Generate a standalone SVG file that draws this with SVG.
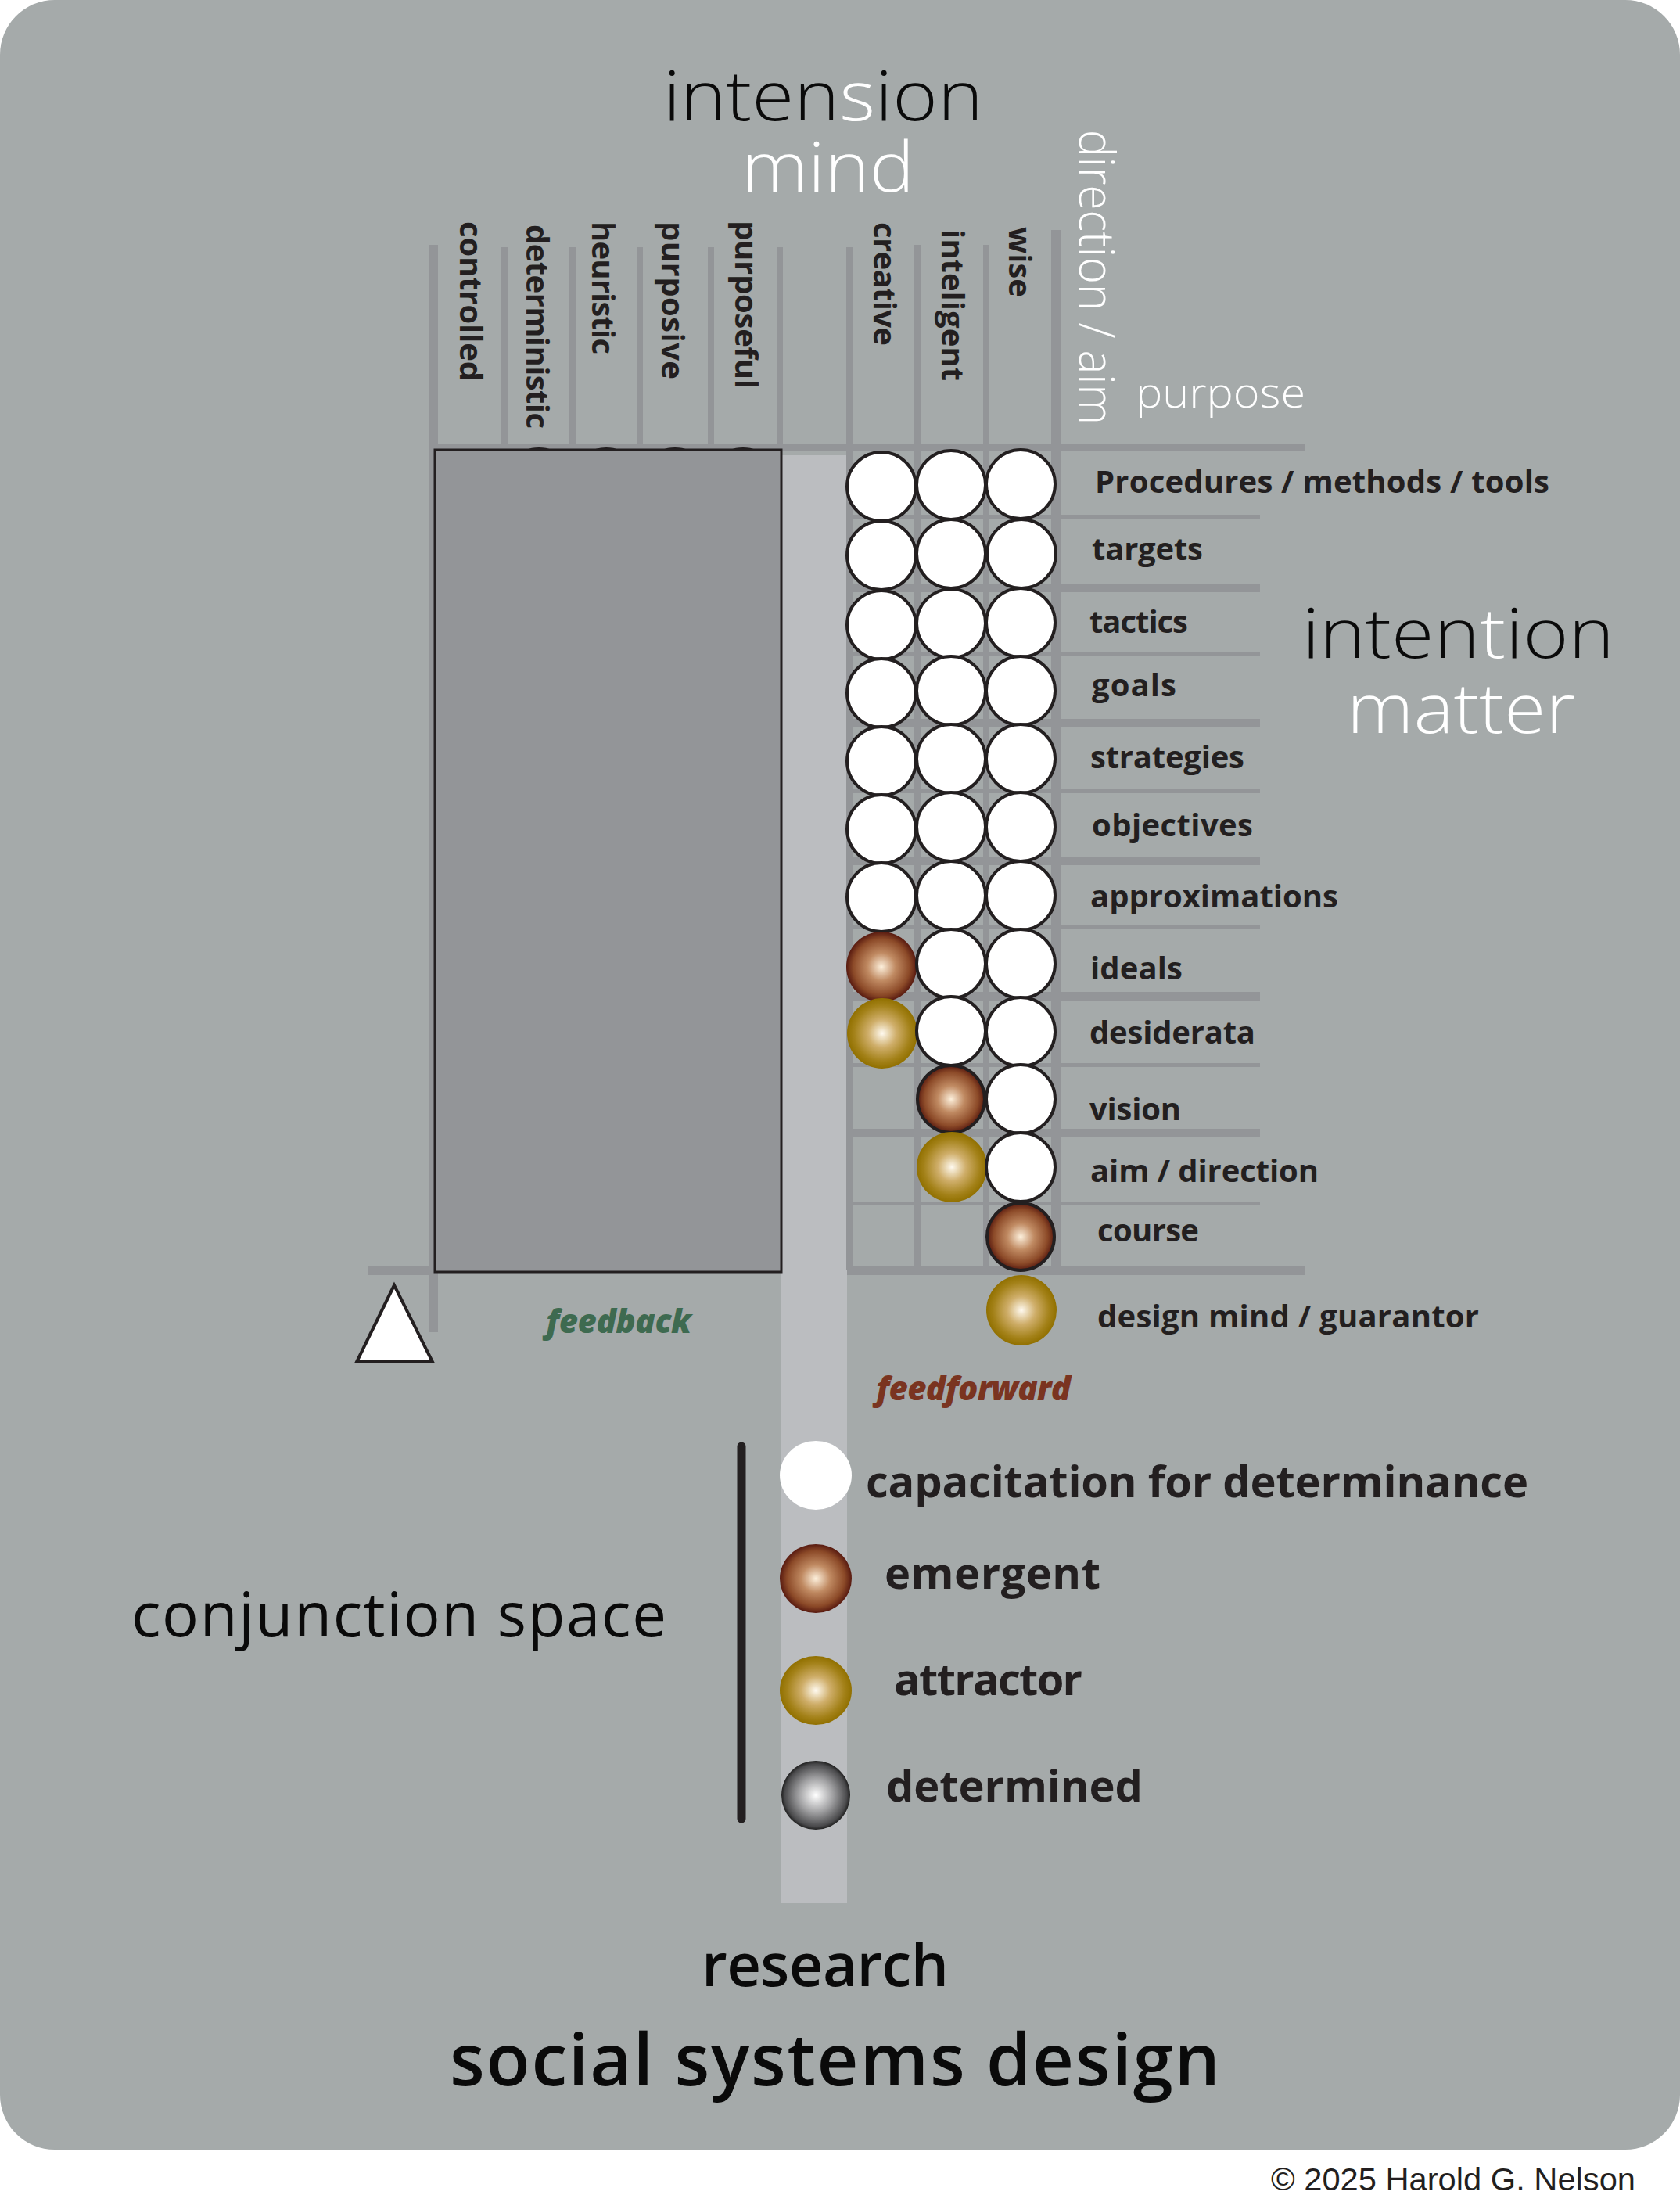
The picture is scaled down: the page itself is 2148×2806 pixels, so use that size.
<svg xmlns="http://www.w3.org/2000/svg" width="2148" height="2806" viewBox="0 0 2148 2806">
<style>
.t{font-family:'Open Sans','Liberation Sans',sans-serif;fill:#231f20}
.lb{font-weight:700;font-size:40px}
.big{font-weight:300;font-size:88px;fill:#0a0a0a}
.wh{fill:#ffffff}
.leg{font-weight:700;font-size:56px}
.gl{fill:#939598}
.cw{fill:#ffffff;stroke:#231f20;stroke-width:4}
.cb{fill:url(#gBrown)}
.cbs{fill:url(#gBrown);stroke:#231f20;stroke-width:4}
.cg{fill:url(#gGold)}
.fb{font-style:italic;font-weight:800;font-size:42px}
</style>
<defs>
<radialGradient id="gBrown" cx="0.5" cy="0.5" r="0.5">
<stop offset="0" stop-color="#fdf0dc"/>
<stop offset="0.4" stop-color="#c08a62"/>
<stop offset="0.8" stop-color="#8c4a28"/>
<stop offset="1" stop-color="#581a10"/>
</radialGradient>
<radialGradient id="gGold" cx="0.5" cy="0.5" r="0.5">
<stop offset="0" stop-color="#fffaf0"/>
<stop offset="0.4" stop-color="#cfae6a"/>
<stop offset="0.8" stop-color="#a38118"/>
<stop offset="1" stop-color="#917000"/>
</radialGradient>
<radialGradient id="gGray" cx="0.5" cy="0.5" r="0.5">
<stop offset="0" stop-color="#ffffff"/>
<stop offset="0.5" stop-color="#a0a0a2"/>
<stop offset="0.9" stop-color="#4a4a4c"/>
<stop offset="1" stop-color="#202020"/>
</radialGradient>
</defs>
<rect x="0" y="0" width="2148" height="2806" fill="#ffffff"/>
<rect id="background" x="0" y="0" width="2148" height="2748" rx="70" ry="70" fill="#a5aaaa"/>

<g id="titles">
<text class="t big" x="848" y="154" textLength="409" lengthAdjust="spacingAndGlyphs">inten<tspan class="wh">s</tspan>ion</text>
<text class="t big wh" x="948" y="245" textLength="221" lengthAdjust="spacingAndGlyphs">mind</text>
<text class="t big" x="1665" y="841" textLength="399" lengthAdjust="spacingAndGlyphs">inten<tspan class="wh">t</tspan>ion</text>
<text class="t big wh" x="1722" y="937" textLength="292" lengthAdjust="spacingAndGlyphs">matter</text>
<text class="t wh" style="font-weight:300;font-size:62px" transform="translate(1380,166) rotate(90)" x="0" y="0" textLength="377" lengthAdjust="spacingAndGlyphs">direction / aim</text>
<text class="t wh" style="font-weight:300;font-size:54px" x="1452" y="521" textLength="217" lengthAdjust="spacingAndGlyphs">purpose</text>
</g>

<g id="research-channel">
<rect x="999" y="582" width="84" height="1851" fill="#bbbdc0"/>
</g>

<g id="grid">
<rect class="gl" x="549" y="313" width="11" height="1390"/>
<rect class="gl" x="641" y="316" width="8" height="256"/>
<rect class="gl" x="728" y="316" width="8" height="256"/>
<rect class="gl" x="814" y="316" width="8" height="256"/>
<rect class="gl" x="905" y="316" width="8" height="256"/>
<rect class="gl" x="993" y="316" width="8" height="256"/>
<rect class="gl" x="1082" y="316" width="8" height="1308"/>
<rect class="gl" x="1169" y="313" width="8" height="1311"/>
<rect class="gl" x="1257" y="313" width="8" height="1311"/>
<rect class="gl" x="1344" y="294" width="12" height="1330"/>
<rect class="gl" x="549" y="567" width="1120" height="10"/>
<rect class="gl" x="1083" y="658" width="528" height="5"/>
<rect class="gl" x="1083" y="746" width="528" height="11"/>
<rect class="gl" x="1083" y="834" width="528" height="5"/>
<rect class="gl" x="1083" y="919" width="528" height="11"/>
<rect class="gl" x="1083" y="1009" width="528" height="5"/>
<rect class="gl" x="1083" y="1095" width="528" height="11"/>
<rect class="gl" x="1083" y="1183" width="528" height="5"/>
<rect class="gl" x="1083" y="1268" width="528" height="11"/>
<rect class="gl" x="1083" y="1359" width="528" height="5"/>
<rect class="gl" x="1083" y="1443" width="528" height="11"/>
<rect class="gl" x="1083" y="1536" width="528" height="5"/>
<rect class="gl" x="1083" y="1618" width="586" height="12"/>
<rect class="gl" x="470" y="1618" width="90" height="12"/>
</g>

<g id="hidden-circles">
<circle class="cw" cx="689" cy="618" r="44"/>
<circle class="cw" cx="775" cy="618" r="44"/>
<circle class="cw" cx="863" cy="618" r="44"/>
<circle class="cw" cx="950" cy="618" r="44"/>
</g>

<g id="conjunction-box">
<rect x="556" y="575" width="443" height="1051" fill="#939598" stroke="#231f20" stroke-width="3"/>
</g>

<g id="column-labels">
<text class="t lb" transform="translate(588,283) rotate(90)" textLength="204">controlled</text>
<text class="t lb" transform="translate(673,287) rotate(90)" textLength="261">deterministic</text>
<text class="t lb" transform="translate(757,283) rotate(90)" textLength="170">heuristic</text>
<text class="t lb" transform="translate(846,283) rotate(90)" textLength="202">purposive</text>
<text class="t lb" transform="translate(940,282) rotate(90)" textLength="215">purposeful</text>
<text class="t lb" transform="translate(1117,284) rotate(90)" textLength="158">creative</text>
<text class="t lb" transform="translate(1204,293) rotate(90)" textLength="194">inteligent</text>
<text class="t lb" transform="translate(1290,290) rotate(90)" textLength="90">wise</text>
</g>

<g id="row-procedures">
<circle class="cw" cx="1127" cy="622" r="44"/><circle class="cw" cx="1216" cy="620" r="44"/><circle class="cw" cx="1305" cy="619" r="44"/>
<text class="t lb" x="1400" y="630" textLength="581">Procedures / methods / tools</text>
</g>
<g id="row-targets">
<circle class="cw" cx="1127" cy="710" r="44"/><circle class="cw" cx="1216" cy="708" r="44"/><circle class="cw" cx="1306" cy="708" r="44"/>
<text class="t lb" x="1396" y="716" textLength="142">targets</text>
</g>
<g id="row-tactics">
<circle class="cw" cx="1127" cy="799" r="44"/><circle class="cw" cx="1216" cy="797" r="44"/><circle class="cw" cx="1305" cy="796" r="44"/>
<text class="t lb" x="1393" y="809" textLength="126">tactics</text>
</g>
<g id="row-goals">
<circle class="cw" cx="1127" cy="886" r="44"/><circle class="cw" cx="1216" cy="883" r="44"/><circle class="cw" cx="1305" cy="883" r="44"/>
<text class="t lb" x="1396" y="890" textLength="108">goals</text>
</g>
<g id="row-strategies">
<circle class="cw" cx="1127" cy="973" r="44"/><circle class="cw" cx="1216" cy="970" r="44"/><circle class="cw" cx="1305" cy="970" r="44"/>
<text class="t lb" x="1394" y="982" textLength="197">strategies</text>
</g>
<g id="row-objectives">
<circle class="cw" cx="1127" cy="1060" r="44"/><circle class="cw" cx="1216" cy="1057" r="44"/><circle class="cw" cx="1305" cy="1057" r="44"/>
<text class="t lb" x="1396" y="1069" textLength="206">objectives</text>
</g>
<g id="row-approximations">
<circle class="cw" cx="1127" cy="1147" r="44"/><circle class="cw" cx="1216" cy="1145" r="44"/><circle class="cw" cx="1305" cy="1145" r="44"/>
<text class="t lb" x="1394" y="1160" textLength="317">approximations</text>
</g>
<g id="row-ideals">
<circle class="cb" cx="1127" cy="1236" r="45"/><circle class="cw" cx="1216" cy="1232" r="44"/><circle class="cw" cx="1305" cy="1232" r="44"/>
<text class="t lb" x="1394" y="1252" textLength="118">ideals</text>
</g>
<g id="row-desiderata">
<circle class="cg" cx="1128" cy="1321" r="45"/><circle class="cw" cx="1216" cy="1318" r="44"/><circle class="cw" cx="1305" cy="1319" r="44"/>
<text class="t lb" x="1393" y="1334" textLength="212">desiderata</text>
</g>
<g id="row-vision">
<circle class="cbs" cx="1216" cy="1405" r="43"/><circle class="cw" cx="1305" cy="1405" r="44"/>
<text class="t lb" x="1393" y="1432" textLength="117">vision</text>
</g>
<g id="row-aim">
<circle class="cg" cx="1217" cy="1492" r="45"/><circle class="cw" cx="1305" cy="1492" r="44"/>
<text class="t lb" x="1394" y="1511" textLength="292">aim / direction</text>
</g>
<g id="row-course">
<circle class="cbs" cx="1305" cy="1581" r="43"/>
<text class="t lb" x="1403" y="1587" textLength="130">course</text>
</g>
<g id="row-design-mind">
<circle class="cg" cx="1306" cy="1675" r="45"/>
<text class="t lb" x="1403" y="1697" textLength="488">design mind / guarantor</text>
</g>

<g id="feedback">
<polygon points="504,1643 456,1741 553,1741" fill="#ffffff" stroke="#231f20" stroke-width="4" stroke-linejoin="miter"/>
<text class="t fb" style="fill:#3e6a50" x="698" y="1704" textLength="186">feedback</text>
</g>
<g id="feedforward">
<text class="t fb" style="fill:#7a3420" x="1120" y="1790" textLength="249">feedforward</text>
</g>

<g id="legend">
<line x1="948" y1="1849" x2="948" y2="2325" stroke="#231f20" stroke-width="11" stroke-linecap="round"/>
<ellipse cx="1043" cy="1886" rx="46" ry="44" fill="#ffffff"/>
<ellipse cx="1043" cy="2018" rx="46" ry="44" fill="url(#gBrown)"/>
<ellipse cx="1043" cy="2161" rx="46" ry="44" fill="url(#gGold)"/>
<ellipse cx="1043" cy="2295" rx="44" ry="44" fill="url(#gGray)"/>
<text class="t leg" x="1107" y="1914" textLength="847">capacitation for determinance</text>
<text class="t leg" x="1131" y="2031" textLength="276">emergent</text>
<text class="t leg" x="1143" y="2167" textLength="241">attractor</text>
<text class="t leg" x="1133" y="2303" textLength="328">determined</text>
</g>

<g id="conjunction-space">
<text class="t" style="font-weight:400;font-size:78px;fill:#0a0a0a" x="168" y="2092" textLength="684">conjunction space</text>
</g>
<g id="bottom-titles">
<text class="t" style="font-weight:600;font-size:76px;fill:#0a0a0a" x="897" y="2539" textLength="316">research</text>
<text class="t" style="font-weight:600;font-size:92px;fill:#0a0a0a" x="575" y="2666" textLength="985">social systems design</text>
</g>
<text style="font-family:'Liberation Sans',Arial,sans-serif;font-size:40px;fill:#231f20" x="1625" y="2800" textLength="466" lengthAdjust="spacingAndGlyphs">© 2025 Harold G. Nelson</text>
</svg>
